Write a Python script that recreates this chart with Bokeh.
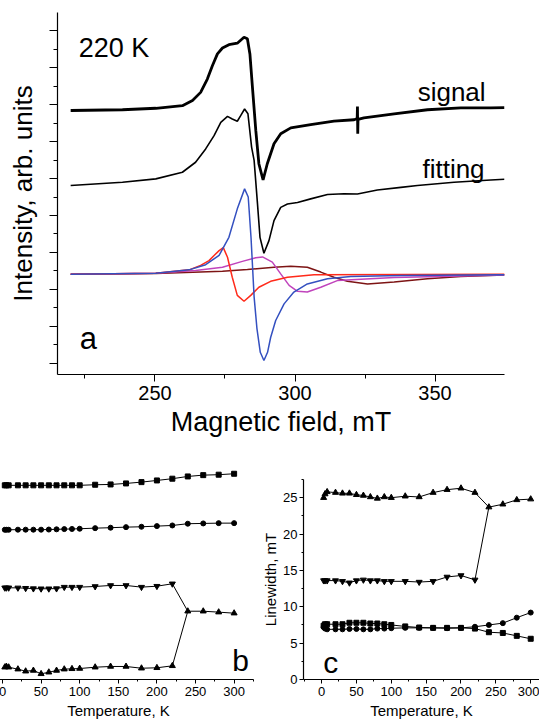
from bokeh.plotting import figure
from bokeh.models import Range1d, FixedTicker, Label
from bokeh.layouts import column, row
from bokeh.embed import file_html
from bokeh.resources import INLINE

FONT = "Liberation Sans"

# ---------------- panel a data (field in mT, intensity in arb. units) -------------
sig_B = [219.9, 238.4, 250.3, 259.8, 263.4, 266.3, 268.7, 270.5, 272.3, 274.1, 276.4, 279.4,
         281.8, 283.0, 283.9, 284.8, 286.0, 287.1, 288.6, 290.1, 292.5, 294.9, 298.5, 305.6,
         313.9, 321.1, 322.2, 322.3, 322.4, 322.5, 324.6, 335.4, 347.3, 359.2, 369.9, 374.8]
sig_v = [6.84, 6.86, 6.90, 6.97, 7.11, 7.33, 7.69, 8.05, 8.37, 8.53, 8.62, 8.66,
         8.82, 8.78, 8.37, 7.47, 6.30, 5.40, 4.96, 5.40, 5.94, 6.21, 6.37, 6.46,
         6.55, 6.59, 6.62, 6.95, 6.21, 6.60, 6.64, 6.75, 6.86, 6.91, 6.91, 6.92]

fit_B = [219.9, 238.4, 250.3, 259.8, 264.5, 268.1, 271.1, 273.5, 275.9, 277.6, 279.4, 280.6,
         282.0, 283.2, 284.5, 285.4, 286.6, 287.5, 288.9, 290.7, 292.5, 294.9, 297.3, 300.9,
         305.6, 311.6, 317.5, 322.3, 329.4, 337.8, 343.7, 356.8, 369.9, 374.8]
fit_v = [4.81, 4.90, 4.99, 5.17, 5.44, 5.80, 6.16, 6.52, 6.68, 6.61, 6.55, 6.70,
         6.88, 6.75, 5.85, 5.49, 4.32, 3.41, 2.98, 3.32, 3.86, 4.22, 4.31, 4.35,
         4.45, 4.57, 4.59, 4.58, 4.69, 4.76, 4.81, 4.90, 4.96, 4.98]

blue_B = [219.9, 250.3, 262.2, 268.1, 272.9, 276.4, 279.4, 282.0, 283.3, 284.3, 285.4, 286.4,
          287.6, 288.9, 290.2, 291.3, 293.1, 296.1, 299.6, 304.4, 311.6, 319.9, 337.8, 374.8]
blue_v = [2.41, 2.44, 2.53, 2.67, 2.92, 3.41, 4.18, 4.72, 4.50, 3.40, 1.80, 0.95,
          0.30, 0.08, 0.30, 0.70, 1.16, 1.61, 1.93, 2.15, 2.29, 2.35, 2.38, 2.40]

red_B = [219.9, 250.3, 262.2, 266.3, 269.3, 271.1, 272.9, 274.4, 275.9, 277.6, 279.4, 281.8,
         284.2, 287.1, 291.3, 297.3, 306.8, 374.8]
red_v = [2.41, 2.44, 2.53, 2.65, 2.78, 2.92, 3.05, 3.13, 2.87, 2.33, 1.84, 1.68,
         1.84, 2.06, 2.22, 2.33, 2.40, 2.41]

mag_B = [219.9, 250.3, 264.5, 274.1, 281.2, 286.0, 288.4, 291.9, 294.9, 297.9, 300.9, 304.4,
         309.2, 315.1, 335.4, 374.8]
mag_v = [2.41, 2.44, 2.51, 2.60, 2.76, 2.86, 2.88, 2.74, 2.42, 2.11, 1.95, 1.93,
         2.06, 2.24, 2.32, 2.39]

brn_B = [219.9, 250.3, 274.1, 283.0, 292.5, 298.5, 304.4, 309.2, 313.9, 318.7, 325.9, 335.4,
         347.3, 359.2, 374.8]
brn_v = [2.41, 2.43, 2.49, 2.54, 2.60, 2.63, 2.60, 2.47, 2.33, 2.22, 2.15, 2.20,
         2.29, 2.35, 2.39]

a_xticks = [250, 300, 350]
a_xminor = [225, 275, 325, 375]
a_yticks = [0, 1, 2, 3, 4, 5, 6, 7, 8, 9]

# ---------------- panels b and c data (temperature in K) -------------
T = [3, 5, 8, 20, 30, 40, 50, 60, 70, 80, 90, 100, 120, 140, 160, 180, 200, 220, 240, 260, 280, 300]

b_sq = [26.7, 26.7, 26.7, 26.7, 26.7, 26.7, 26.7, 26.7, 26.7, 26.7, 26.7, 26.7, 26.78, 26.82,
        26.96, 27.14, 27.37, 27.61, 27.92, 28.10, 28.16, 28.29]
b_ci = [20.59, 20.59, 20.59, 20.60, 20.60, 20.60, 20.60, 20.62, 20.65, 20.68, 20.70, 20.73,
        20.81, 20.87, 20.95, 21.00, 21.09, 21.18, 21.42, 21.46, 21.50, 21.50]
b_dn = [12.61, 12.61, 12.61, 12.60, 12.55, 12.50, 12.48, 12.48, 12.50, 12.70, 12.70, 12.70,
        12.79, 12.93, 12.93, 12.70, 12.83, 13.16]
b_up = [1.69, 1.79, 1.69, 1.42, 1.14, 1.24, 0.78, 1.00, 1.24, 1.42, 1.47, 1.51, 1.69, 1.79,
        1.79, 1.55, 1.61, 1.88, 9.39, 9.39, 9.26, 9.12]

c_up = [25.0, 25.5, 25.8, 25.7, 25.6, 25.6, 25.4, 25.3, 25.1, 24.9, 25.1, 25.0, 25.2, 25.1,
        25.7, 26.1, 26.3, 25.7, 23.7, 24.1, 24.7, 24.8]
c_dn = [13.6, 13.6, 13.6, 13.6, 13.5, 13.3, 13.6, 13.7, 13.6, 13.6, 13.5, 13.5, 13.5, 13.4,
        13.5, 14.1, 14.3, 13.7]
c_sq = [7.4, 7.6, 7.6, 7.6, 7.6, 7.8, 7.8, 7.8, 7.7, 7.7, 7.6, 7.5, 7.3, 7.15, 7.1, 7.1,
        7.1, 7.0, 6.5, 6.4, 6.0, 5.6]
c_ci = [7.2, 7.0, 6.9, 6.9, 6.9, 6.95, 6.95, 6.9, 6.9, 7.0, 7.0, 7.05, 7.1, 7.1, 7.1, 7.05,
        7.1, 7.25, 7.5, 7.75, 8.5, 9.2]

t_ticks = [0, 50, 100, 150, 200, 250, 300]
t_minor = [-25, 25, 75, 125, 175, 225, 275, 325]
c_yticks = [0, 5, 10, 15, 20, 25]
c_yminor = [2.5, 7.5, 12.5, 17.5, 22.5, 27.5]


def style_axes(p, tick_size, label_size):
    for ax in (p.xaxis[0], p.yaxis[0]):
        ax.axis_line_color = "black"
        ax.axis_line_width = 1.2
        ax.major_tick_line_color = "black"
        ax.minor_tick_line_color = "black"
        ax.major_tick_in = 0
        ax.minor_tick_in = 0
        ax.major_label_text_font = FONT
        ax.major_label_text_font_size = tick_size
        ax.major_label_text_color = "black"
        ax.axis_label_text_font = FONT
        ax.axis_label_text_font_size = label_size
        ax.axis_label_text_font_style = "normal"
        ax.axis_label_text_color = "black"
    p.grid.visible = False
    p.outline_line_color = None
    p.background_fill_color = "white"
    p.border_fill_color = "white"


# ---------------- panel a -------------
pa = figure(width=539, height=450, output_backend="svg", toolbar_location=None,
            x_range=Range1d(215.2, 374.8), y_range=Range1d(-0.3, 9.49),
            min_border_left=57, min_border_right=35, min_border_top=12, min_border_bottom=76)
style_axes(pa, "20px", "26px")
pa.xaxis.axis_label_text_font_size = "27px"
pa.xaxis.ticker = FixedTicker(ticks=a_xticks, minor_ticks=a_xminor)
pa.yaxis.ticker = FixedTicker(ticks=a_yticks, minor_ticks=[t + 0.5 for t in [-1] + a_yticks])
pa.xaxis.major_tick_out = 7
pa.xaxis.minor_tick_out = 4
pa.yaxis.major_tick_out = 8
pa.yaxis.minor_tick_out = 4
pa.yaxis.major_label_overrides = {t: "" for t in a_yticks}
pa.xaxis.axis_label = "Magnetic field, mT"
pa.yaxis.axis_label = "Intensity, arb. units"
pa.xaxis.major_label_standoff = 4
pa.xaxis.axis_label_standoff = 4
pa.yaxis.axis_label_standoff = 12

pa.line(brn_B, brn_v, line_color="#7d1414", line_width=1.5)
pa.line(mag_B, mag_v, line_color="#c044bc", line_width=1.5)
pa.line(red_B, red_v, line_color="#ff2a1a", line_width=1.5)
pa.line(blue_B, blue_v, line_color="#3450c0", line_width=1.5)
pa.line(fit_B, fit_v, line_color="black", line_width=1.6)
pa.line(sig_B, sig_v, line_color="black", line_width=2.8)

for txt, x, y, fs in [("220 K", 222.8, 8.54, "27px"), ("signal", 343.8, 7.33, "26px"),
                      ("fitting", 345.5, 5.27, "26px"), ("a", 223.1, 0.68, "31px")]:
    pa.add_layout(Label(x=x, y=y, text=txt, text_font=FONT, text_font_size=fs,
                        text_color="black", text_baseline="alphabetic", text_align="left"))

# ---------------- panel b (its left part lies outside the page, as in the reference) -------------
pb = figure(width=276, height=272, output_backend="svg", toolbar_location=None,
            x_range=Range1d(-24.6, 325.1), y_range=Range1d(0, 29.7),
            min_border_left=0, min_border_right=6, min_border_top=13, min_border_bottom=43)
style_axes(pb, "13px", "15px")
pb.yaxis.visible = False
pb.xaxis.ticker = FixedTicker(ticks=t_ticks, minor_ticks=t_minor)
pb.xaxis.major_tick_out = 4
pb.xaxis.minor_tick_out = 2
pb.xaxis.major_label_standoff = 3
pb.xaxis.axis_label_standoff = 3
pb.xaxis.axis_label = "Temperature, K"

pb.line(T, b_sq, line_color="black", line_width=1)
pb.scatter(T, b_sq, marker="square", size=5, color="black")
pb.line(T, b_ci, line_color="black", line_width=1)
pb.scatter(T, b_ci, marker="circle", size=5, color="black")
Tdn = T[:len(b_dn)]
pb.line(Tdn, b_dn, line_color="black", line_width=1)
pb.line([Tdn[-1], T[len(b_dn)]], [b_dn[-1], b_up[len(b_dn)]], line_color="black", line_width=1)
pb.scatter(Tdn, b_dn, marker="inverted_triangle", size=6, color="black")
pb.line(T, b_up, line_color="black", line_width=1)
pb.scatter(T, b_up, marker="triangle", size=6, color="black")
pb.add_layout(Label(x=297.5, y=2.6, text="b", text_font=FONT, text_font_size="30px",
                    text_color="black", text_baseline="alphabetic"))

# ---------------- panel c -------------
pc = figure(width=280, height=272, output_backend="svg", toolbar_location=None,
            x_range=Range1d(-25.9, 312.6), y_range=Range1d(0, 27.5),
            min_border_left=41, min_border_right=0, min_border_top=29, min_border_bottom=43)
style_axes(pc, "13px", "15px")
pc.xaxis.ticker = FixedTicker(ticks=t_ticks, minor_ticks=t_minor)
pc.yaxis.ticker = FixedTicker(ticks=c_yticks, minor_ticks=c_yminor)
for ax in (pc.xaxis[0], pc.yaxis[0]):
    ax.major_tick_out = 4
    ax.minor_tick_out = 2
    ax.major_label_standoff = 3
    ax.axis_label_standoff = 3
pc.yaxis.major_label_standoff = 2
pc.yaxis.axis_label_standoff = 1
pc.xaxis.axis_label = "Temperature, K"
pc.yaxis.axis_label = "Linewidth, mT"

pc.line(T, c_up, line_color="black", line_width=1)
pc.scatter(T, c_up, marker="triangle", size=6, color="black")
Tcd = T[:len(c_dn)]
pc.line(Tcd, c_dn, line_color="black", line_width=1)
pc.line([Tcd[-1], T[len(c_dn)]], [c_dn[-1], c_up[len(c_dn)]], line_color="black", line_width=1)
pc.scatter(Tcd, c_dn, marker="inverted_triangle", size=6, color="black")
pc.line(T, c_sq, line_color="black", line_width=1)
pc.scatter(T, c_sq, marker="square", size=5, color="black")
pc.line(T, c_ci, line_color="black", line_width=1)
pc.scatter(T, c_ci, marker="circle", size=5, color="black")
pc.add_layout(Label(x=2.4, y=2.4, text="c", text_font=FONT, text_font_size="30px",
                    text_color="black", text_baseline="alphabetic"))

layout = column(pa, row(column(pb, margin=(0, 0, 0, -17)), column(pc)))
open("out.html", "w").write(file_html(layout, INLINE))
